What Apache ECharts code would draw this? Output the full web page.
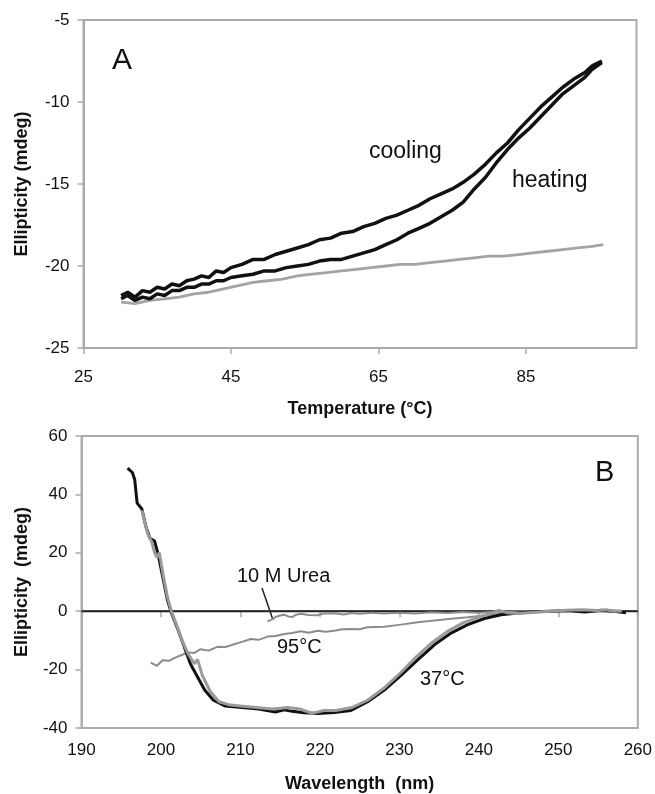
<!DOCTYPE html>
<html>
<head>
<meta charset="utf-8">
<script src="https://cdn.jsdelivr.net/npm/echarts@6/dist/echarts.min.js"></script>
<style>
html,body{margin:0;padding:0;background:#fff;}
#main{width:655px;height:794px;}
</style>
</head>
<body>
<div id="main"></div>
<script>
// ---------- panel A : ellipticity vs temperature ----------
var cooling = [[30.1,-21.8],[31,-21.6],[32,-21.9],[33,-21.5],[34,-21.6],[35,-21.3],[36,-21.4],[37,-21.1],[38,-21.2],[39,-20.9],
	[40,-20.8],[41,-20.6],[42,-20.7],[43,-20.3],[44,-20.4],[45,-20.1],[46.5,-19.9],[48,-19.6],[49.5,-19.6],[51,-19.3],
	[52.5,-19.1],[54,-18.9],[55.5,-18.7],[57,-18.4],[58.5,-18.3],[60,-18.0],[61.5,-17.9],[63,-17.6],[64.5,-17.4],[66,-17.1],
	[67.5,-16.9],[69,-16.6],[70.5,-16.3],[72,-15.9],[73.5,-15.6],[75,-15.3],[76.5,-14.9],[78,-14.4],[79.5,-13.8],[81,-13.1],
	[82.5,-12.5],[84,-11.7],[85.5,-11.0],[87,-10.3],[88.5,-9.7],[90,-9.1],[91.5,-8.6],[93,-8.2],[94,-7.8],[95.3,-7.5]];
var heating = [[30.1,-22.0],[31,-21.8],[32,-22.1],[33,-21.9],[34,-22.0],[35,-21.7],[36,-21.8],[37,-21.5],[38,-21.5],[39,-21.3],
	[40,-21.3],[41,-21.1],[42,-21.1],[43,-20.9],[44,-20.9],[45,-20.7],[46.5,-20.6],[48,-20.5],[49.5,-20.3],[51,-20.3],
	[52.5,-20.1],[54,-20.0],[55.5,-19.9],[57,-19.7],[58.5,-19.6],[60,-19.6],[61.5,-19.4],[63,-19.2],[64.5,-19.0],[66,-18.7],
	[67.5,-18.4],[69,-18.0],[70.5,-17.7],[72,-17.4],[73.5,-17.0],[75,-16.6],[76.5,-16.1],[78,-15.3],[79.5,-14.6],[81,-13.7],
	[82.5,-12.9],[84,-12.2],[85.5,-11.6],[87,-10.9],[88.5,-10.2],[90,-9.5],[91.5,-9.0],[93,-8.5],[94,-8.0],[95.3,-7.6]];
var secondHeat = [[30.1,-22.2],[32,-22.3],[34,-22.1],[36,-22.0],[38,-21.9],[40,-21.7],[42,-21.6],[44,-21.4],[46,-21.2],[48,-21.0],
	[50,-20.9],[52,-20.8],[54,-20.6],[56,-20.5],[58,-20.4],[60,-20.3],[62,-20.2],[64,-20.1],[66,-20.0],[68,-19.9],
	[70,-19.9],[72,-19.8],[74,-19.7],[76,-19.6],[78,-19.5],[80,-19.4],[82,-19.4],[84,-19.3],[86,-19.2],[88,-19.1],
	[90,-19.0],[92,-18.9],[94,-18.8],[95.5,-18.7]];

// ---------- panel B : CD spectra ----------
var spec37 = [[195.8,49],[196.4,47.5],[196.7,45],[197.0,37],[197.6,35],[198.1,29],[198.6,25],[199.2,24],[199.6,20],[200.2,12],
	[200.8,4],[201.3,-0.5],[202.1,-6],[202.9,-12],[203.7,-18],[204.5,-22],[205.5,-27],[206.6,-30.5],[208.1,-32.5],[210.2,-33],
	[212.3,-33.5],[214.4,-34.5],[215.5,-33.8],[216.5,-34.3],[218,-34.8],[219.7,-35],[221.8,-34.7],[223.9,-34],[226.0,-31],[228.1,-27],
	[230.2,-22],[232.3,-16.7],[234.4,-11.5],[236.5,-7.5],[238.6,-4.6],[240.7,-2.5],[242.8,-1.2],[244.9,-0.6],[247,-0.2],[249.1,0],
	[251.2,0.2],[253.3,-0.3],[255.4,0.3],[257.5,-0.2],[258.5,-0.5]];
var spec37b = [[197.6,34.5],[198.0,30],[198.4,26],[198.8,24],[199.2,20],[199.5,18.5],[199.8,20],[200.3,12],[200.8,5],[201.3,0],
	[202,-5],[202.8,-11],[203.5,-15],[204.2,-18],[204.6,-16.5],[205.2,-22],[206.2,-27.5],[207.3,-31],[208.5,-32],[210,-32.5],
	[212,-33],[214,-33.5],[216,-33],[217.5,-33.5],[219,-35],[220.5,-34],[222,-34],[224,-33],[226,-30.5],[228,-26.5],
	[230,-21.5],[232,-16],[234,-11],[236,-7],[238,-4],[240,-2],[241.5,-0.8],[242.5,0.3],[243.5,-0.5],[245,-0.8],
	[247,-0.4],[249,0],[251,0.3],[253,0.5],[255,0.2],[256,0.5],[257,0],[258,0.1]];
var spec95 = [[198.7,-17.6],[199.5,-18.7],[200.2,-16.8],[201,-17],[201.8,-15.9],[202.6,-15],[203.4,-14.1],[204.2,-14.3],[205,-13],[206,-13.5],
	[207.1,-12.2],[208.1,-12.3],[209.2,-11.3],[210.2,-10.5],[211.3,-9.5],[212.3,-9.8],[213.4,-8.7],[214.4,-8.5],[215.5,-7.8],[216.5,-7.5],
	[217.6,-6.9],[218.6,-7.4],[219.7,-6.7],[220.7,-7],[221.8,-6.7],[222.8,-6.2],[223.9,-6.1],[225,-6.2],[226,-5.5],[228.1,-5.3],
	[230.2,-4.6],[232.3,-3.8],[234.4,-3.2],[236.5,-2.6],[238.6,-2.1],[240.7,-1.5],[242.8,-0.9],[244.9,-0.5],[247,-0.3],[250,0],
	[253,0.2],[256,0.3],[258,0.1]];
var specUrea = [[213.4,-3.5],[214,-2.8],[214.4,-2],[215,-1.5],[215.5,-1.2],[216,-1.8],[216.5,-2],[217,-1.2],[217.6,-0.9],[218.5,-1.3],
	[219.7,-1.4],[220.5,-0.8],[221.8,-0.7],[223,-1.1],[224,-0.6],[225,-0.9],[226.5,-0.5],[228,-0.8],[230,-0.5],[232,-0.8],
	[234,-0.4],[236,-0.6],[238,-0.3],[240,-0.5],[242,-0.2],[245,-0.1],[248,0],[252,0.1],[256,0],[258,0.1]];

var font = "'Liberation Sans', Arial, sans-serif";
var boxColor = '#ababab';

function valAxis(min, max, step, grid) {
	return {
		type: 'value', gridIndex: grid, min: min, max: max, interval: step,
		axisLine: {show: true, lineStyle: {color: boxColor, width: 2}},
		axisTick: {show: true, inside: false, length: 6, lineStyle: {color: boxColor, width: 1.5}},
		splitLine: {show: false},
		axisLabel: {color: '#111', fontSize: 17, fontFamily: font},
		nameTextStyle: {color: '#111', fontSize: 18, fontWeight: 'bold', fontFamily: font},
		nameLocation: 'middle'
	};
}

function curve(data, color, w, xi, z) {
	return {
		type: 'line', data: data, xAxisIndex: xi, yAxisIndex: xi,
		showSymbol: false, symbol: 'none', z: z,
		lineStyle: {color: color, width: w}, animation: false
	};
}

var xA = valAxis(25, 100, 20, 0);
xA.name = 'Temperature (\u00b0C)'; xA.nameGap = 52;
xA.axisLabel.margin = 21; xA.axisLabel.showMaxLabel = false;
var yA = valAxis(-25, -5, 5, 0);
yA.name = 'Ellipticity (mdeg)'; yA.nameGap = 52; yA.axisLabel.margin = 14;

var xB = valAxis(190, 260, 10, 1);
xB.name = 'Wavelength  (nm)'; xB.nameGap = 47; xB.axisLabel.margin = 14;
var yB = valAxis(-40, 60, 20, 1);
yB.name = 'Ellipticity  (mdeg)'; yB.nameGap = 50; yB.axisLabel.margin = 14;

// black zero reference line across panel B
var zeroLine = curve([[190, 0], [260, 0]], '#222', 2, 1, 1);

var option = {
	backgroundColor: '#fff',
	animation: false,
	grid: [
		{left: 83.5, top: 20, width: 553, height: 328, show: true, borderColor: boxColor, borderWidth: 2},
		{left: 81.5, top: 436, width: 556.5, height: 294, show: true, borderColor: boxColor, borderWidth: 2}
	],
	xAxis: [xA, xB],
	yAxis: [yA, yB],
	series: [
		curve(secondHeat, '#a3a3a3', 2.8, 0, 2),
		curve(heating, '#111', 3.5, 0, 3),
		curve(cooling, '#111', 3.5, 0, 3),
		zeroLine,
		curve(specUrea, '#8c8c8c', 2, 1, 2),
		curve(spec95, '#8c8c8c', 2, 1, 2),
		curve(spec37, '#111', 3, 1, 3),
		curve(spec37b, '#9a9a9a', 3, 1, 4)
	],
	graphic: [
		{type: 'text', left: 112, top: 46, style: {text: 'A', fontSize: 30, fontFamily: font, fill: '#111'}},
		{type: 'text', left: 595, top: 458, style: {text: 'B', fontSize: 29, fontFamily: font, fill: '#111'}},
		{type: 'text', left: 369, top: 140, style: {text: 'cooling', fontSize: 23, fontFamily: font, fill: '#111'}},
		{type: 'text', left: 512, top: 169, style: {text: 'heating', fontSize: 23, fontFamily: font, fill: '#111'}},
		{type: 'text', left: 237, top: 566, style: {text: '10 M Urea', fontSize: 20, fontFamily: font, fill: '#111'}},
		{type: 'text', left: 277, top: 637, style: {text: '95\u00b0C', fontSize: 20, fontFamily: font, fill: '#111'}},
		{type: 'text', left: 420, top: 669, style: {text: '37\u00b0C', fontSize: 20, fontFamily: font, fill: '#111'}},
		{type: 'line', shape: {x1: 262, y1: 588, x2: 273, y2: 620}, style: {stroke: '#222', lineWidth: 1.5}}
	]
};

var myChart = echarts.init(document.getElementById('main'), null, {renderer: 'canvas'});
myChart.setOption(option);
</script>
</body>
</html>
